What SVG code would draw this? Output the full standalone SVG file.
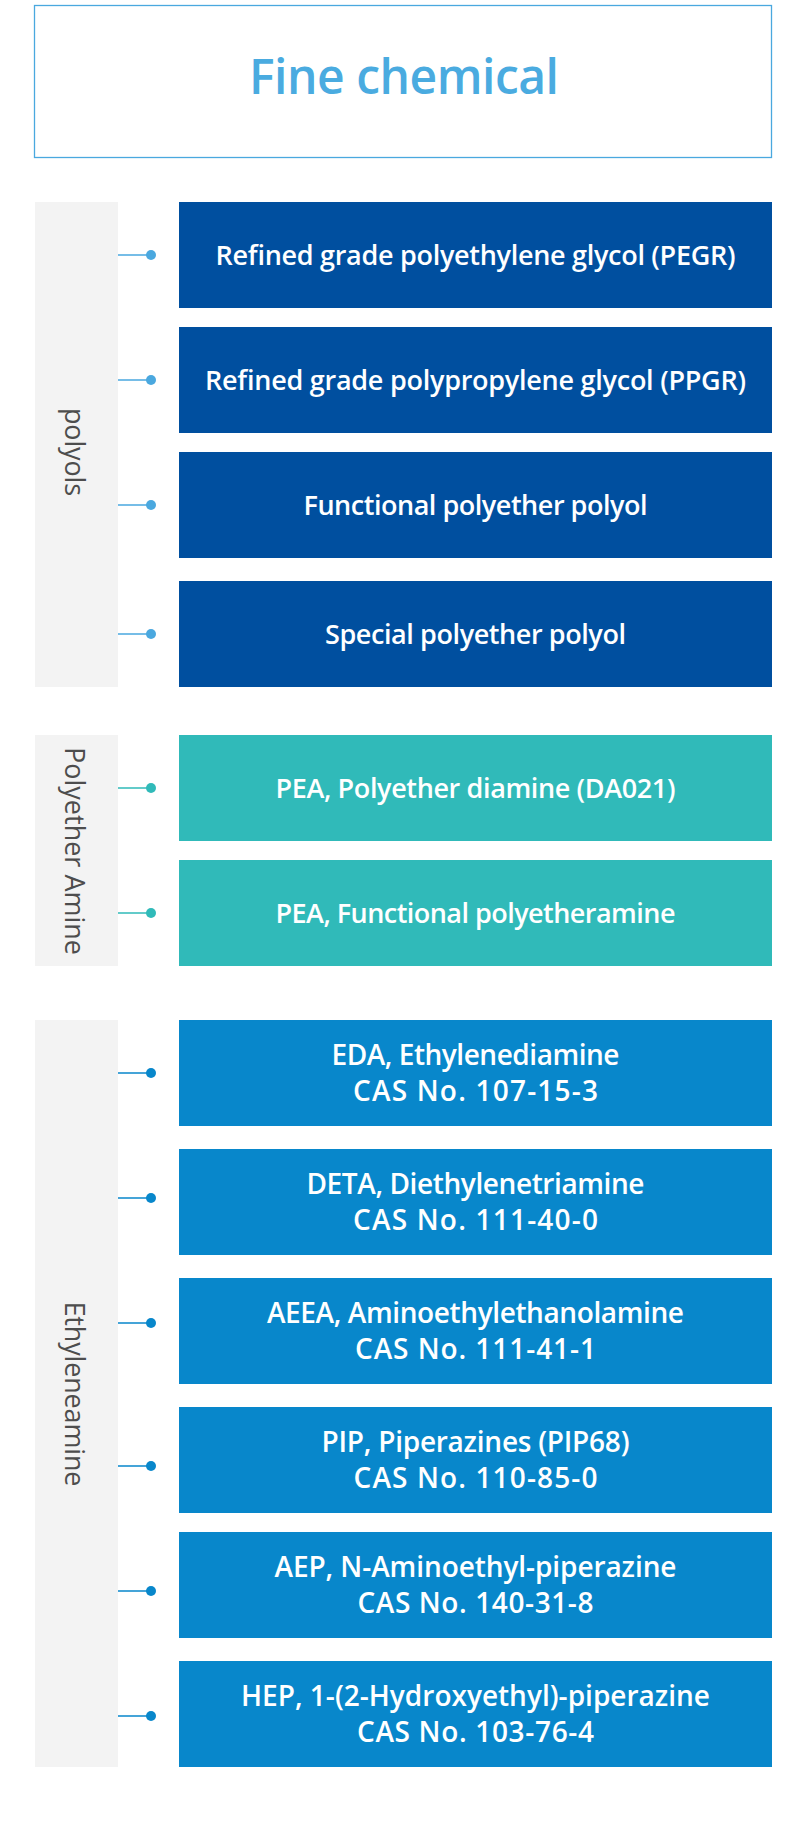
<svg xmlns="http://www.w3.org/2000/svg" width="800" height="1826" viewBox="0 0 800 1826">
<style>
.panel{fill:#f3f3f3}
.side{font-family:"Open Sans","Noto Sans",sans-serif;font-size:27px;fill:#4d4d4d;text-anchor:middle}
.lbl{font-family:"Open Sans","Noto Sans",sans-serif;fill:#ffffff;text-anchor:middle;font-weight:600}
.b1{fill:#004f9f}
.b2{fill:#30bab9}
.b3{fill:#0887cb}
.t1{font-size:27px}
.t2{font-size:27px}
.t3{font-size:28px}
.c1{stroke:#4aa8df;fill:none;stroke-width:1.3}
.c2{stroke:#30bab9;fill:none;stroke-width:1.3}
.c3{stroke:#0887cb;fill:none;stroke-width:1.3}
.d1{fill:#4aa8df}
.d2{fill:#30bab9}
.d3{fill:#0887cb}
</style>
<rect width="800" height="1826" fill="#ffffff"/>
<g id="title">
<rect x="34.5" y="5.5" width="737" height="152" fill="#ffffff" stroke="#4aa8df" stroke-width="1.3"/>
<text x="404" y="94" font-family="'Open Sans','Noto Sans',sans-serif" font-size="48" font-weight="600" fill="#4aabe0" text-anchor="middle" textLength="310">Fine chemical</text>
</g>
<g id="group-polyols">
<rect class="panel" x="35" y="202" width="83" height="485"/>
<text class="side" transform="translate(65,452) rotate(90)" textLength="88">polyols</text>
</g>
<g id="group-amine">
<rect class="panel" x="35" y="735" width="83" height="231"/>
<text class="side" transform="translate(65,851) rotate(90)" textLength="208">Polyether Amine</text>
</g>
<g id="group-ethyleneamine">
<rect class="panel" x="35" y="1020" width="83" height="747"/>
<text class="side" transform="translate(65,1394) rotate(90)" textLength="185">Ethyleneamine</text>
</g>
<g id="connectors">
<path class="c1" d="M118 255H151M118 380H151M118 505H151M118 634H151"/>
<circle class="d1" cx="151" cy="255" r="5"/>
<circle class="d1" cx="151" cy="380" r="5"/>
<circle class="d1" cx="151" cy="505" r="5"/>
<circle class="d1" cx="151" cy="634" r="5"/>
<path class="c2" d="M118 788H151M118 913H151"/>
<circle class="d2" cx="151" cy="788" r="5"/>
<circle class="d2" cx="151" cy="913" r="5"/>
<path class="c3" d="M118 1073H151M118 1198H151M118 1323H151M118 1466H151M118 1591H151M118 1716H151"/>
<circle class="d3" cx="151" cy="1073" r="5"/>
<circle class="d3" cx="151" cy="1198" r="5"/>
<circle class="d3" cx="151" cy="1323" r="5"/>
<circle class="d3" cx="151" cy="1466" r="5"/>
<circle class="d3" cx="151" cy="1591" r="5"/>
<circle class="d3" cx="151" cy="1716" r="5"/>
</g>
<g id="pegr"><rect class="b1" x="179" y="202" width="593" height="106"/><text class="lbl t1" x="475.5" y="265" textLength="520">Refined grade polyethylene glycol (PEGR)</text></g>
<g id="ppgr"><rect class="b1" x="179" y="327" width="593" height="106"/><text class="lbl t1" x="475.5" y="390" textLength="541">Refined grade polypropylene glycol (PPGR)</text></g>
<g id="functional-polyol"><rect class="b1" x="179" y="452" width="593" height="106"/><text class="lbl t1" x="475.5" y="515" textLength="344">Functional polyether polyol</text></g>
<g id="special-polyol"><rect class="b1" x="179" y="581" width="593" height="106"/><text class="lbl t1" x="475.5" y="644" textLength="301">Special polyether polyol</text></g>
<g id="pea-da021"><rect class="b2" x="179" y="735" width="593" height="106"/><text class="lbl t2" x="475.5" y="798" textLength="400">PEA, Polyether diamine (DA021)</text></g>
<g id="pea-functional"><rect class="b2" x="179" y="860" width="593" height="106"/><text class="lbl t2" x="475.5" y="923" textLength="400">PEA, Functional polyetheramine</text></g>
<g id="eda"><rect class="b3" x="179" y="1020" width="593" height="106"/><text class="lbl t3" x="475.5" y="1065" textLength="288">EDA, Ethylenediamine</text><text class="lbl t3" x="475.5" y="1101" textLength="245">CAS No. 107-15-3</text></g>
<g id="deta"><rect class="b3" x="179" y="1149" width="593" height="106"/><text class="lbl t3" x="475.5" y="1194" textLength="338">DETA, Diethylenetriamine</text><text class="lbl t3" x="475.5" y="1230" textLength="245">CAS No. 111-40-0</text></g>
<g id="aeea"><rect class="b3" x="179" y="1278" width="593" height="106"/><text class="lbl t3" x="475.5" y="1323" textLength="417">AEEA, Aminoethylethanolamine</text><text class="lbl t3" x="475.5" y="1359" textLength="241">CAS No. 111-41-1</text></g>
<g id="pip"><rect class="b3" x="179" y="1407" width="593" height="106"/><text class="lbl t3" x="475.5" y="1452" textLength="308">PIP, Piperazines (PIP68)</text><text class="lbl t3" x="475.5" y="1488" textLength="244">CAS No. 110-85-0</text></g>
<g id="aep"><rect class="b3" x="179" y="1532" width="593" height="106"/><text class="lbl t3" x="475.5" y="1577" textLength="402">AEP, N-Aminoethyl-piperazine</text><text class="lbl t3" x="475.5" y="1613" textLength="236">CAS No. 140-31-8</text></g>
<g id="hep"><rect class="b3" x="179" y="1661" width="593" height="106"/><text class="lbl t3" x="475.5" y="1706" textLength="469">HEP, 1-(2-Hydroxyethyl)-piperazine</text><text class="lbl t3" x="475.5" y="1742" textLength="237">CAS No. 103-76-4</text></g>
</svg>
